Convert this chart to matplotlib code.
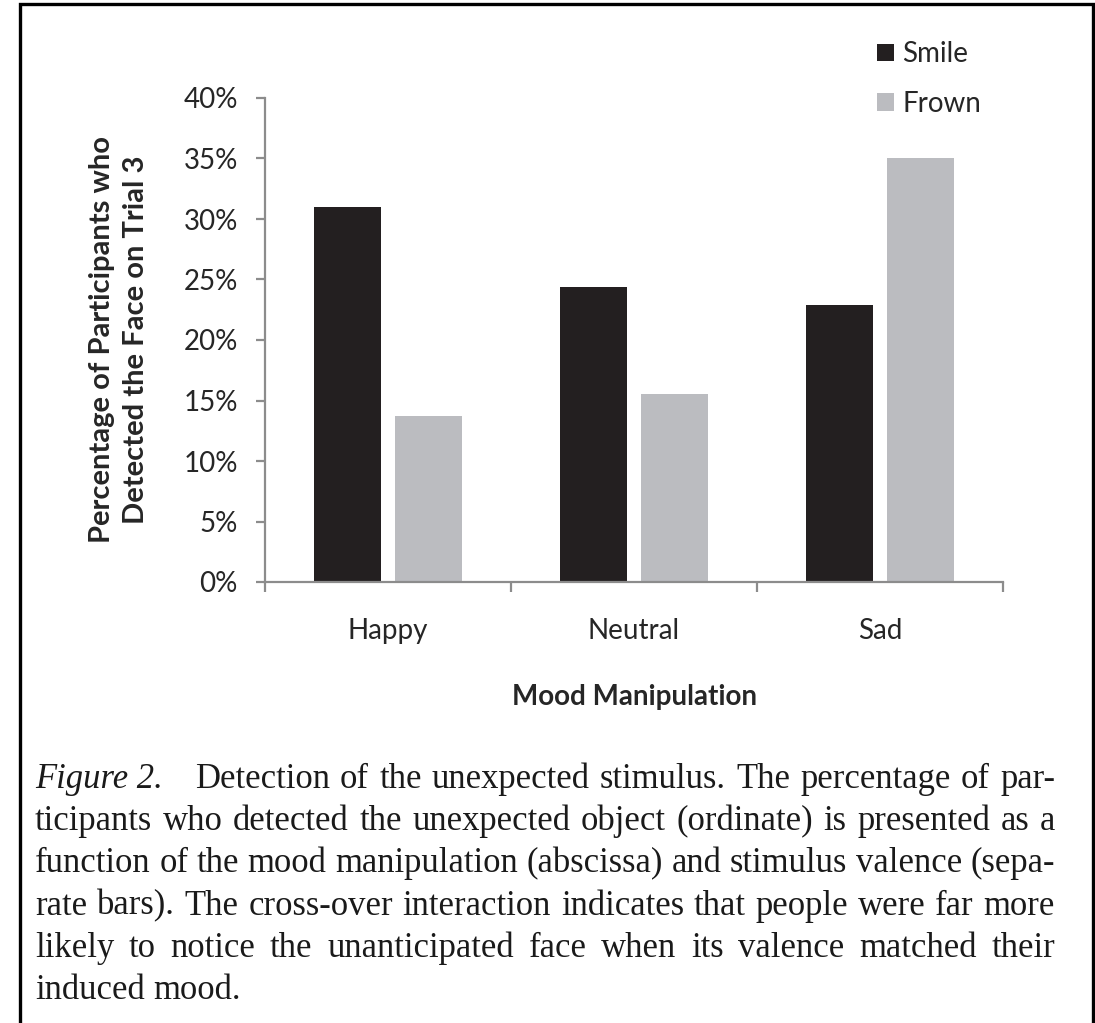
import matplotlib
matplotlib.use('Agg')
import matplotlib.pyplot as plt
import numpy as np
from matplotlib.patches import Rectangle

# data
moods = ['Happy', 'Neutral', 'Sad']
smile = [31.0, 24.4, 22.9]
frown = [13.7, 15.5, 35.0]
yticks = [0, 5, 10, 15, 20, 25, 30, 35, 40]

caption_lines = [
    'Detection of the unexpected stimulus. The percentage of par-',
    'ticipants who detected the unexpected object (ordinate) is presented as a',
    'function of the mood manipulation (abscissa) and stimulus valence (sepa-',
    'rate bars). The cross-over interaction indicates that people were far more',
    'likely to notice the unanticipated face when its valence matched their',
    'induced mood.',
]

W, H = 1095, 1023
SANS = ['Lato', 'DejaVu Sans']
SERIF = ['Liberation Serif', 'DejaVu Serif']
GRAY = '#8c8c8c'
TXT = '#262626'


def fx(x):
    return x / W


def fy(y):
    return 1 - y / H


fig = plt.figure(figsize=(W / 100, H / 100), dpi=100)
fig.patch.set_facecolor('white')

# frame round the whole figure
fig.patches.append(Rectangle((fx(20), fy(1040)), fx(1093) - fx(20), fy(4) - fy(1040),
                             transform=fig.transFigure, fill=False,
                             edgecolor='black', linewidth=2.4))

ax = fig.add_axes([fx(265), fy(582), fx(1003) - fx(265), fy(98) - fy(582)])
x = np.arange(len(moods))
w = 0.275
off = 0.164
ax.bar(x - off, smile, w, color='#231f20', label='Smile')
ax.bar(x + off, frown, w, color='#bbbcc0', label='Frown')
ax.set_xlim(-0.5, 2.5)
ax.set_ylim(0, 40)

for s in ['top', 'right']:
    ax.spines[s].set_visible(False)
for s in ['left', 'bottom']:
    ax.spines[s].set_color(GRAY)
    ax.spines[s].set_linewidth(1.6)

ax.set_yticks(yticks)
ax.set_yticklabels([f'{v}%' for v in yticks], fontsize=20, family=SANS, color=TXT)
ax.tick_params(axis='y', direction='out', length=6.5, width=1.6, color=GRAY, pad=13)

ax.set_xticks(x)
ax.set_xticklabels(moods, fontsize=20, family=SANS, color=TXT)
ax.set_xticks([-0.5, 0.5, 1.5, 2.5], minor=True)
ax.tick_params(axis='x', which='major', length=0, pad=26)
ax.tick_params(axis='x', which='minor', direction='out', length=7, width=1.6, color=GRAY)

fig.text(fx(634), fy(697), 'Mood Manipulation', fontsize=20, fontweight='bold',
         family=SANS, color=TXT, ha='center', va='center')
fig.text(fx(119), fy(340), 'Percentage of Participants who\nDetected the Face on Trial 3',
         fontsize=21, fontweight='bold', family=SANS, color=TXT, rotation=90,
         ha='center', va='center', multialignment='center', linespacing=1.35)

leg = fig.legend(loc='upper left', bbox_to_anchor=(fx(866), fy(30)), frameon=False,
                 prop={'family': SANS, 'size': 20}, handlelength=0.6, handleheight=0.6,
                 handletextpad=0.3, labelspacing=0.85, borderaxespad=0)
for t in leg.get_texts():
    t.set_color(TXT)

# caption, justified between two margins
renderer = fig.canvas.get_renderer()
left, right = 35, 1055
base0, step = 788, 42.2


def width_of(txt, fs, style='normal'):
    t = fig.text(0, 0, txt, fontsize=fs, family=SERIF, style=style)
    wpx = t.get_window_extent(renderer).width
    t.remove()
    return wpx


fs = 20
natural = width_of(caption_lines[1], fs)
fs = fs * 1000 / natural

for i, line in enumerate(caption_lines):
    words = [(wd, 'normal') for wd in line.split()]
    extra = 0
    if i == 0:
        words = [('Figure 2.', 'italic')] + words
        extra = 22
    widths = [width_of(wd, fs, st) for wd, st in words]
    yb = fy(base0 + i * step)
    if i == len(caption_lines) - 1:
        gap = width_of('a b', fs) - width_of('ab', fs)
    else:
        gap = (right - left - sum(widths) - extra) / (len(words) - 1)
    xp = left
    for j, ((wd, st), wpx) in enumerate(zip(words, widths)):
        fig.text(fx(xp), yb, wd, fontsize=fs, family=SERIF, style=st,
                 color='#1a1a1a', ha='left', va='baseline')
        xp += wpx + gap
        if j == 0 and extra:
            xp += extra

fig.savefig('out.png', dpi=100, facecolor='white')
